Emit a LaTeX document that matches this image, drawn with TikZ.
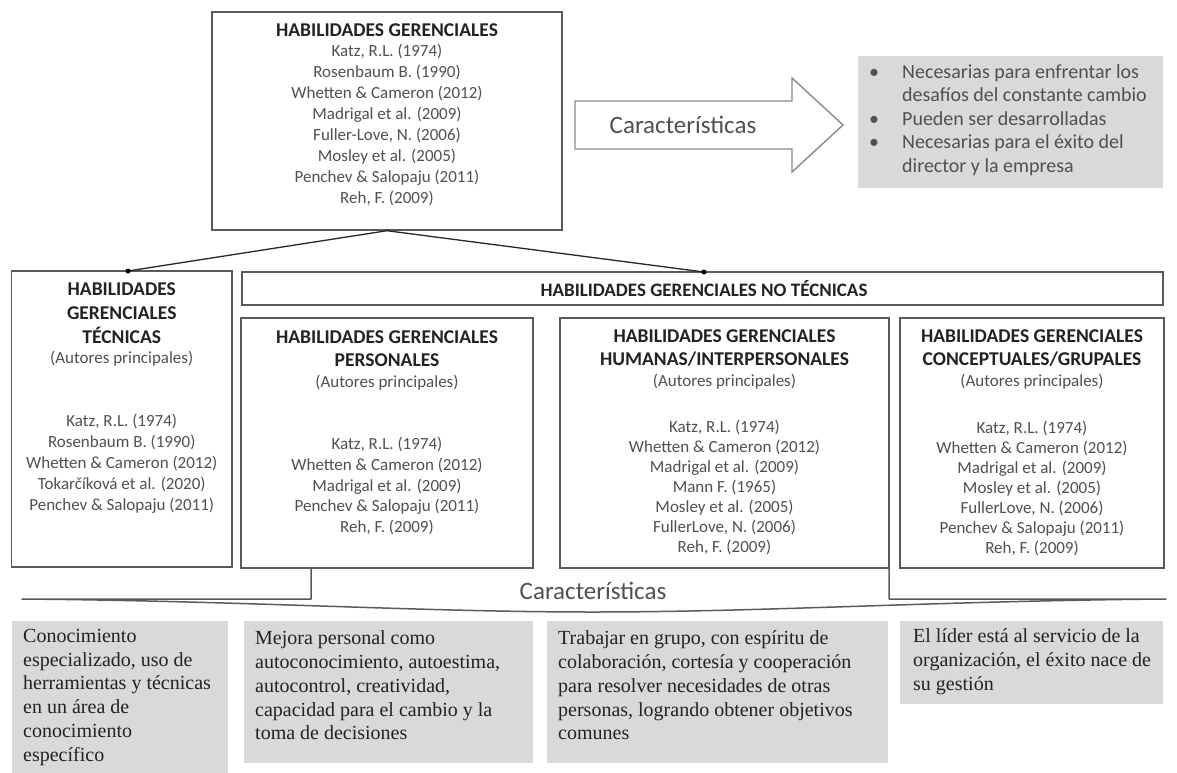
\documentclass[tikz,border=0pt]{standalone}
\usepackage{fontspec}
\setmainfont{Carlito}
\newfontfamily\bodyserif{Liberation Serif}
\definecolor{edgec}{HTML}{5A5A5A}
\definecolor{txtc}{HTML}{505050}
\definecolor{ttlc}{HTML}{222222}
\definecolor{grayfill}{HTML}{D9D9D9}
\definecolor{arrowc}{HTML}{8A8A8A}
\begin{document}
\begin{tikzpicture}[x=1pt,y=-1pt,
  boxn/.style={draw=edgec, line width=1.4pt, fill=white, inner sep=0, rectangle},
  grayb/.style={fill=grayfill, draw=none, inner sep=0, rectangle},
  ttl/.style={font=\bfseries\fontsize{19.5}{23}\selectfont, text=ttlc, align=center, inner sep=0},
  ttlx/.style={font=\bfseries\fontsize{19.5}{24}\selectfont, text=ttlc, align=center, inner sep=0},
  auth/.style={font=\fontsize{17}{20.9}\selectfont, text=txtc, align=center, inner sep=0},
  authb/.style={font=\fontsize{17}{20}\selectfont, text=txtc, align=center, inner sep=0},
  btxt/.style={font=\bodyserif\fontsize{20}{23.7}\selectfont, text=ttlc, align=left, inner sep=0, anchor=west},
  bigt/.style={font=\fontsize{25}{30}\selectfont, text=txtc, inner sep=0},
  conn/.style={draw=black!85, line width=1.3pt},
  dotn/.style={circle, fill=black, inner sep=0, minimum size=5pt}
]
\useasboundingbox (0,0) rectangle (1177,773);

% ---- ribbon "Caracteristicas" (drawn first) ----
\coordinate (rl) at (311,568);
\coordinate (rr) at (889,568);
\draw[draw=edgec, line width=1.5pt, fill=white, line join=round]
  (rl) -- (311,599) -- (22,599) .. controls (250,601) and (420,612) .. (593,612)
  .. controls (766,612) and (936,601) .. (1166,599) -- (889,599) -- (rr);
\node[bigt] (carb) at (593,591) {Características};

% ---- top box ----
\node[boxn, minimum width=350pt, minimum height=218pt] (top) at (387,121) {};
\node[ttl] (topT) at (387,30) {HABILIDADES GERENCIALES};
\node[auth] (topA) at (387,125) {Katz, R.L. (1974)\\Rosenbaum B. (1990)\\Whetten \& Cameron (2012)\\Madrigal et al. (2009)\\Fuller-Love, N. (2006)\\Mosley et al. (2005)\\Penchev \& Salopaju (2011)\\Reh, F. (2009)};

% ---- arrow ----
\coordinate (a0) at (575,101);
\draw[draw=arrowc, line width=1.4pt, fill=white, line join=miter]
  (a0) -- (792,101) -- (792,78) -- (843,125) -- (792,172) -- (792,149) -- (575,149) -- cycle;
\node[bigt] (arrT) at (683,125) {Características};

% ---- top right gray box ----
\node[grayb, minimum width=305pt, minimum height=132pt] (gtr) at (1010.5,122) {};
\node[font=\fontsize{20}{23.5}\selectfont, text=txtc, align=left, inner sep=0, anchor=west] (gtrT) at (869,120)
 {\makebox[33pt][l]{•}Necesarias para enfrentar los\\
  \hspace*{33pt}desafíos del constante cambio\\
  \makebox[33pt][l]{•}Pueden ser desarrolladas\\
  \makebox[33pt][l]{•}Necesarias para el éxito del\\
  \hspace*{33pt}director y la empresa};

% ---- second level boxes ----
\node[boxn, minimum width=220.5pt, minimum height=296pt] (tec) at (121.75,419) {};
\node[boxn, minimum width=921pt, minimum height=33pt] (notec) at (702.5,288.5) {};
\node[boxn, minimum width=292pt, minimum height=250pt] (per) at (387,443) {};
\node[boxn, minimum width=329pt, minimum height=250pt] (hum) at (724.5,443) {};
\node[boxn, minimum width=264pt, minimum height=250pt] (con) at (1032,443) {};

% connectors
\coordinate (dotL) at (128,271);
\coordinate (dotR) at (704,272);
\draw[conn] (top.south) -- (dotL);
\draw[conn] (top.south) -- (dotR);
\node[dotn] (dl) at (dotL) {};
\node[dotn] (dr) at (dotR) {};

% texts: tecnicas
\node[ttlx] (tecT) at (121.75,313) {HABILIDADES\\GERENCIALES\\TÉCNICAS};
\node[auth] (tecS) at (121.75,359) {(Autores principales)};
\node[auth] (tecA) at (121.75,463.5) {Katz, R.L. (1974)\\Rosenbaum B. (1990)\\Whetten \& Cameron (2012)\\Tokarčíková et al. (2020)\\Penchev \& Salopaju (2011)};

% no tecnicas banner
\node[font=\bfseries\fontsize{19}{23}\selectfont, text=ttlc, inner sep=0] (notecT) at (704,289) {HABILIDADES GERENCIALES NO TÉCNICAS};

% personales
\node[ttl] (perT) at (387,348.5) {HABILIDADES GERENCIALES\\PERSONALES};
\node[auth] (perS) at (387,383) {(Autores principales)};
\node[auth] (perA) at (387,486) {Katz, R.L. (1974)\\Whetten \& Cameron (2012)\\Madrigal et al. (2009)\\Penchev \& Salopaju (2011)\\Reh, F. (2009)};

% humanas
\node[ttl] (humT) at (724.5,348.5) {HABILIDADES GERENCIALES\\HUMANAS/INTERPERSONALES};
\node[auth] (humS) at (724.5,382) {(Autores principales)};
\node[authb] (humA) at (724.5,487) {Katz, R.L. (1974)\\Whetten \& Cameron (2012)\\Madrigal et al. (2009)\\Mann F. (1965)\\Mosley et al. (2005)\\FullerLove, N. (2006)\\Reh, F. (2009)};

% conceptuales
\node[ttl] (conT) at (1032,348.5) {HABILIDADES GERENCIALES\\CONCEPTUALES/GRUPALES};
\node[auth] (conS) at (1032,382) {(Autores principales)};
\node[authb] (conA) at (1032,488) {Katz, R.L. (1974)\\Whetten \& Cameron (2012)\\Madrigal et al. (2009)\\Mosley et al. (2005)\\FullerLove, N. (2006)\\Penchev \& Salopaju (2011)\\Reh, F. (2009)};

% ---- bottom gray boxes ----
\node[grayb, minimum width=216pt, minimum height=156pt] (b1) at (120,699) {};
\node[grayb, minimum width=289pt, minimum height=142pt] (b2) at (388.5,692) {};
\node[grayb, minimum width=341pt, minimum height=142pt] (b3) at (717.5,692) {};
\node[grayb, minimum width=263pt, minimum height=83pt] (b4) at (1031.5,662.5) {};

\node[btxt] (b1T) at (23,697.25) {Conocimiento\\especializado, uso de\\herramientas y técnicas\\en un área de\\conocimiento\\específico};
\node[btxt] (b2T) at (255,685.5) {Mejora personal como\\autoconocimiento, autoestima,\\autocontrol, creatividad,\\capacidad para el cambio y la\\toma de decisiones};
\node[btxt] (b3T) at (558,685.5) {Trabajar en grupo, con espíritu de\\colaboración, cortesía y cooperación\\para resolver necesidades de otras\\personas, logrando obtener objetivos\\comunes};
\node[btxt] (b4T) at (913,661.7) {El líder está al servicio de la\\organización, el éxito nace de\\su gestión};
\end{tikzpicture}
\end{document}
